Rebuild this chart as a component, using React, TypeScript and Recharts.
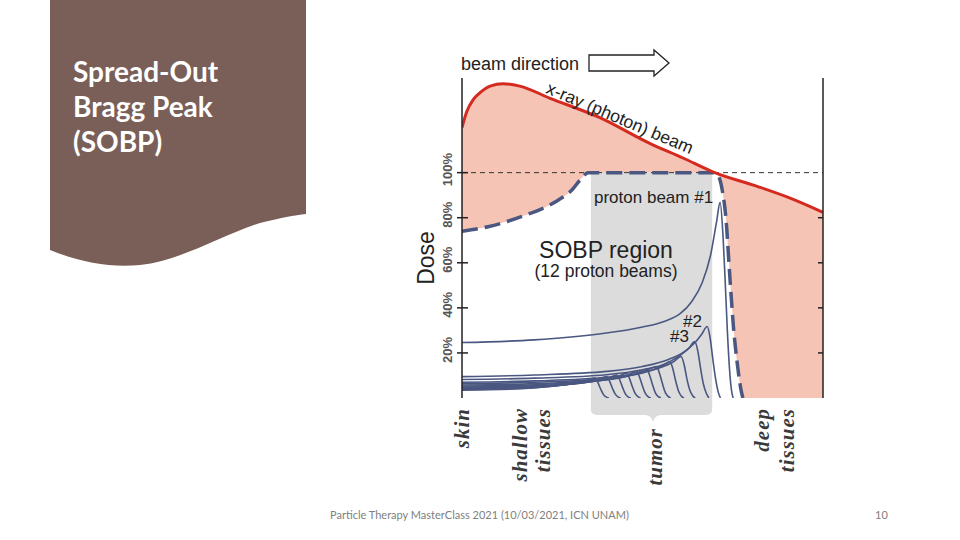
import React from 'react'
import { Area, ComposedChart, Line, ReferenceArea, ReferenceLine, XAxis, YAxis } from 'recharts'

// depth across the plot (0 = skin, 100 = right edge), dose in %
const doseTicks = [20, 40, 60, 80, 100]
const innerTicks = [20, 40, 60, 80]
const tumorStart = 35.7
const tumorEnd = 69.3

const xrayDepth = [0, 1.3, 3.1, 5, 7.8, 11.4, 16, 24.4, 38.2, 52, 61.2, 70, 81.6, 90.9, 100]
const xrayDose = [120, 127, 132.4, 135.5, 138.4, 139.4, 138.4, 133, 124.4, 113, 106.5, 100, 94, 88.7, 82.4]

const sobpDepth = [0, 7.2, 16.6, 25.8, 30.5, 33.2, 34.9, 69.5, 70.8, 72.0, 73.3, 73.9, 74.5, 75.2, 76.2, 77.3, 77.8]
const sobpDose = [74, 76, 80.6, 87, 92.4, 97.7, 100, 100, 99, 93, 76, 61, 46.7, 31.5, 16, 3.5, 0]

const beam1Depth = [0, 20, 38, 50, 56, 60.5, 63.5, 66.5, 68.8, 70.5, 71.5, 72.3, 72.9, 73.5, 74.1, 74.6, 75.1]
const beam1Dose = [24.6, 25.8, 28.4, 31.5, 34, 37.5, 42.5, 51, 63, 78, 86.8, 72, 52, 30, 13, 4, 0]
const beam2Depth = [0, 20, 40, 50, 57, 61.5, 64.5, 66.5, 67.9, 68.7, 69.5, 70.3, 71.0, 71.6]
const beam2Dose = [9.5, 10.2, 11.8, 14, 17, 20.5, 24.5, 28.5, 31.7, 27, 17, 8, 2.5, 0]
const beam3Depth = [0, 20, 40, 50, 56, 60, 62.8, 64.5, 65.3, 66.1, 66.9, 67.7, 68.4]
const beam3Dose = [8.2, 8.8, 10.3, 12.5, 15, 18.5, 22, 25, 21, 13, 6, 2, 0]
const beam4Depth = [0, 20, 40, 50, 55, 58.5, 60.7, 61.5, 62.3, 63.1, 63.9, 64.6]
const beam4Dose = [7.0, 7.6, 9.2, 11.3, 13.5, 16, 18.4, 15, 8.5, 3.5, 1, 0]
const beam5Depth = [0, 20, 40, 48, 53, 55.8, 57.6, 58.4, 59.2, 60, 60.8, 61.5]
const beam5Dose = [6.4, 7, 8.6, 10.4, 12.5, 14.5, 16.1, 13, 7.5, 3, 0.8, 0]
const beam6Depth = [0, 20, 38, 46, 50.5, 53.9, 54.7, 55.5, 56.3, 57.1, 57.8]
const beam6Dose = [5.8, 6.4, 8, 9.8, 11.8, 14, 11, 6.5, 2.5, 0.7, 0]
const beam7Depth = [0, 20, 36, 44, 48, 51.2, 52, 52.8, 53.6, 54.4, 55.1]
const beam7Dose = [5.3, 5.9, 7.4, 9, 10.8, 12.7, 10, 5.8, 2.2, 0.6, 0]
const beam8Depth = [0, 20, 34, 41, 45.5, 48.4, 49.2, 50, 50.8, 51.6, 52.3]
const beam8Dose = [4.9, 5.5, 6.9, 8.4, 10, 11.7, 9.2, 5.3, 2, 0.5, 0]
const beam9Depth = [0, 20, 32, 39, 43, 45.6, 46.4, 47.2, 48, 48.8, 49.5]
const beam9Dose = [4.5, 5.1, 6.5, 8, 9.4, 11, 8.6, 5, 1.9, 0.5, 0]
const beam10Depth = [0, 18, 30, 36.5, 40.5, 42.9, 43.7, 44.5, 45.3, 46.1, 46.8]
const beam10Dose = [4.1, 4.7, 6.1, 7.5, 8.8, 10.2, 8, 4.6, 1.7, 0.4, 0]
const beam11Depth = [0, 18, 28, 34, 37.8, 40.1, 40.9, 41.7, 42.5, 43.3, 44]
const beam11Dose = [3.8, 4.4, 5.8, 7.1, 8.3, 9.5, 7.4, 4.2, 1.6, 0.4, 0]
const beam12Depth = [0, 16, 26, 31.5, 34.8, 36.8, 37.6, 38.4, 39.2, 40, 40.7]
const beam12Dose = [3.5, 4.1, 5.4, 6.7, 7.8, 8.9, 7, 4, 1.5, 0.4, 0]

const toPoints = (depth: number[], dose: number[]) => depth.map((d, i) => ({ depth: d, dose: dose[i] }))

const xray = toPoints(xrayDepth, xrayDose)
const sobp = toPoints(sobpDepth, sobpDose)
const beams = [
  toPoints(beam1Depth, beam1Dose),
  toPoints(beam2Depth, beam2Dose),
  toPoints(beam3Depth, beam3Dose),
  toPoints(beam4Depth, beam4Dose),
  toPoints(beam5Depth, beam5Dose),
  toPoints(beam6Depth, beam6Dose),
  toPoints(beam7Depth, beam7Dose),
  toPoints(beam8Depth, beam8Dose),
  toPoints(beam9Depth, beam9Dose),
  toPoints(beam10Depth, beam10Dose),
  toPoints(beam11Depth, beam11Dose),
  toPoints(beam12Depth, beam12Dose),
]

const sans = "'Liberation Sans', Arial, sans-serif"
const serif = "'Liberation Serif', 'Times New Roman', serif"
const navy = '#4a5781'

function DoseTick(props: any) {
  const { x, y, payload } = props
  const lx = x - 14
  const ly = y - 3
  return (
    <g>
      <line x1={x - 5} x2={x + 6} y1={y} y2={y} stroke="#222" strokeWidth={1.5} />
      <text x={lx} y={ly} transform={`rotate(-90 ${lx} ${ly})`} textAnchor="middle" dominantBaseline="central"
        fontSize={13} fontWeight="bold" fontFamily={sans} fill="#555">{payload.value}%</text>
    </g>
  )
}

// gray tumor band with the curly brace hanging under the axis
function TumorBand(props: any) {
  const { x, y, width, height } = props
  const b = y + height
  const r = x + width
  const mid = x + width / 2 + 1.5
  const d = `M${x},${y} H${r} V${b + 12} Q${r},${b + 17} ${r - 8},${b + 17} H${mid + 8} Q${mid + 2},${b + 17} ${mid},${b + 24} Q${mid - 2},${b + 17} ${mid - 8},${b + 17} H${x + 8} Q${x},${b + 17} ${x},${b + 12} Z`
  return <path d={d} fill="#dcdcdc" />
}

function BottomLabel({ x, y, text }: { x: number; y: number; text: string }) {
  return (
    <text x={x} y={y} transform={`rotate(-90 ${x} ${y})`} textAnchor="end" dominantBaseline="central"
      fontFamily={serif} fontStyle="italic" fontWeight="bold" fontSize={21} letterSpacing={1} fill="#3a3a3a">{text}</text>
  )
}

export default function App() {
  return (
    <div style={{ position: 'absolute', left: 0, top: 0, width: 960, height: 540, background: '#fff', overflow: 'hidden' }}>
      <svg width={960} height={540} style={{ position: 'absolute', left: 0, top: 0 }}>
        <path d="M50,0 H306 V214 C295,215 280,218 260,223 C220,236 180,261 140,265 C110,268 80,262 50,250 Z" fill="#7a5f58" />
        <g fontFamily="Lato, 'Open Sans', sans-serif" fontWeight="bold" fontSize={28} fill="#fff">
          <text x={73} y={82}>Spread-Out</text>
          <text x={73} y={117}>Bragg Peak</text>
          <text x={73} y={152}>(SOBP)</text>
        </g>
        <g fontFamily="Lato, 'Open Sans', sans-serif" fontSize={11} fill="#808080">
          <text x={330} y={519}>Particle Therapy MasterClass 2021 (10/03/2021, ICN UNAM)</text>
          <text x={875} y={519}>10</text>
        </g>
      </svg>

      <div style={{ position: 'absolute', left: 0, top: 0 }}>
        <ComposedChart width={960} height={540} margin={{ top: 78, right: 137, bottom: 142, left: 422 }}>
          <XAxis dataKey="depth" type="number" domain={[0, 100]} allowDataOverflow height={0} tick={false} tickLine={false}
            axisLine={{ stroke: '#222', strokeWidth: 2 }} />
          <YAxis type="number" domain={[0, 142]} allowDataOverflow width={40} ticks={doseTicks} tickSize={0} tickMargin={0}
            tickLine={false} tick={<DoseTick />} axisLine={{ stroke: '#222', strokeWidth: 1.5 }} />
          <YAxis yAxisId="right" orientation="right" mirror type="number" domain={[0, 142]} allowDataOverflow
            ticks={innerTicks} tickSize={5} tick={<g />} tickLine={{ stroke: '#222', strokeWidth: 1.5 }}
            axisLine={{ stroke: '#222', strokeWidth: 1.5 }} />

          <Area yAxisId="right" data={xray} dataKey="dose" type="monotone" fill="#f5c4b4" fillOpacity={1} stroke="none"
            isAnimationActive={false} zIndex={100} />
          <Area data={sobp} dataKey="dose" type="monotone" fill="#fff" fillOpacity={1} stroke="none"
            isAnimationActive={false} zIndex={101} />
          <ReferenceArea x1={tumorStart} x2={tumorEnd} y1={0} y2={100} ifOverflow="visible" shape={<TumorBand />} zIndex={102} />
          <ReferenceLine y={100} stroke="#333" strokeWidth={1} strokeDasharray="5 4" zIndex={103} />

          {beams.map((b, i) => (
            <Line key={i} data={b} dataKey="dose" type="monotone" stroke={navy} strokeWidth={1.6} dot={false}
              activeDot={false} isAnimationActive={false} zIndex={400} />
          ))}
          <Line data={sobp} dataKey="dose" type="monotone" stroke={navy} strokeWidth={3.5} strokeDasharray="16 7"
            dot={false} activeDot={false} isAnimationActive={false} zIndex={401} />
          <Line yAxisId="right" data={xray} dataKey="dose" type="monotone" stroke="#d42a20" strokeWidth={3} dot={false}
            activeDot={false} isAnimationActive={false} zIndex={402} />
        </ComposedChart>
      </div>

      <svg width={960} height={540} style={{ position: 'absolute', left: 0, top: 0, pointerEvents: 'none' }}>
        <text x={461} y={70} fontFamily={sans} fontSize={18} fill="#222">beam direction</text>
        <path d="M589,55 H654 V50 L669,63 L654,76 V71 H589 Z" fill="#fff" stroke="#222" strokeWidth={1.3} />
        <text x={620} y={118} transform="rotate(23 620 118)" textAnchor="middle" dominantBaseline="central"
          fontFamily={sans} fontSize={17.5} fill="#222">x-ray (photon) beam</text>
        <text x={594} y={203} fontFamily={sans} fontSize={17} fill="#222">proton beam #1</text>
        <text x={606} y={258} textAnchor="middle" fontFamily={sans} fontSize={23} fill="#222">SOBP region</text>
        <text x={606} y={277} textAnchor="middle" fontFamily={sans} fontSize={17.5} fill="#222">(12 proton beams)</text>
        <text x={683} y={327} fontFamily={sans} fontSize={17} fill="#222">#2</text>
        <text x={670} y={342} fontFamily={sans} fontSize={17} fill="#222">#3</text>
        <text x={426} y={258} transform="rotate(-90 426 258)" textAnchor="middle" dominantBaseline="central"
          fontFamily={sans} fontSize={23} fill="#222">Dose</text>
        <BottomLabel x={462} y={408} text="skin" />
        <BottomLabel x={520} y={408} text="shallow" />
        <BottomLabel x={543} y={408} text="tissues" />
        <BottomLabel x={655} y={428} text="tumor" />
        <BottomLabel x={762} y={408} text="deep" />
        <BottomLabel x={787} y={408} text="tissues" />
      </svg>
    </div>
  )
}
